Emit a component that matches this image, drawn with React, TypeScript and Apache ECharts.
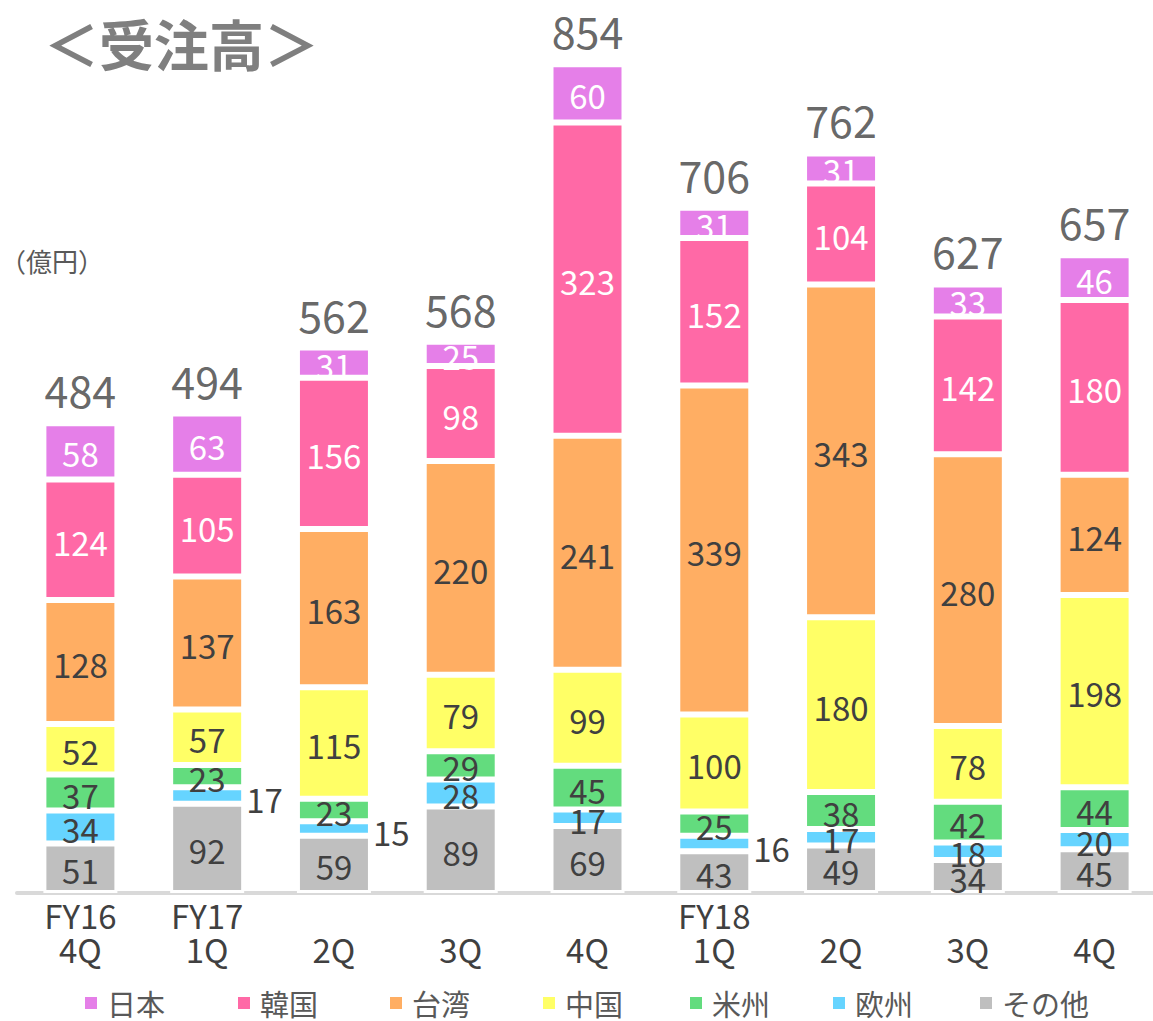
import React, { useEffect, useRef } from "react";
import * as echarts from "echarts";

const CATEGORIES = ["FY16-4Q", "FY17-1Q", "FY17-2Q", "FY17-3Q", "FY17-4Q", "FY18-1Q", "FY18-2Q", "FY18-3Q", "FY18-4Q"];
const TICK_LABELS = ["FY16\n4Q", "FY17\n1Q", " \n2Q", " \n3Q", " \n4Q", "FY18\n1Q", " \n2Q", " \n3Q", " \n4Q"];

const OTHER = [51, 92, 59, 89, 69, 43, 49, 34, 45];
const EUROPE = [34, 17, 15, 28, 17, 16, 17, 18, 20];
const AMERICAS = [37, 23, 23, 29, 45, 25, 38, 42, 44];
const CHINA = [52, 57, 115, 79, 99, 100, 180, 78, 198];
const TAIWAN = [128, 137, 163, 220, 241, 339, 343, 280, 124];
const KOREA = [124, 105, 156, 98, 323, 152, 104, 142, 180];
const JAPAN = [58, 63, 31, 25, 60, 31, 31, 33, 46];
const TOTALS = [484, 494, 562, 568, 854, 706, 762, 627, 657];
const EUROPE_OUTSIDE = [1, 2, 5];

const FONT = "'Noto Sans CJK JP', 'Noto Sans', sans-serif";
const DARK = "#404040";

const SERIES_DEF = [
  { name: "その他", data: OTHER, color: "#bfbfbf", text: DARK },
  { name: "欧州", data: EUROPE, color: "#66d4ff", text: DARK },
  { name: "米州", data: AMERICAS, color: "#63dc7e", text: DARK },
  { name: "中国", data: CHINA, color: "#ffff66", text: DARK },
  { name: "台湾", data: TAIWAN, color: "#ffae63", text: DARK },
  { name: "韓国", data: KOREA, color: "#ff69a6", text: "#ffffff" },
  { name: "日本", data: JAPAN, color: "#e57fe8", text: "#ffffff" },
];

const LEGEND_ORDER = ["日本", "韓国", "台湾", "中国", "米州", "欧州", "その他"];
const LEGEND_X = [85, 238, 390, 543, 690, 833, 980];

export default function App() {
  const ref = useRef<HTMLDivElement>(null);
  useEffect(() => {
    if (!ref.current) return;
    const chart = echarts.init(ref.current, undefined, { renderer: "svg" });
    const series: any[] = SERIES_DEF.map((s) => ({
      name: s.name,
      type: "bar",
      stack: "total",
      barWidth: 74,
      itemStyle: { color: s.color, borderColor: "#ffffff", borderWidth: 3 },
      label: {
        show: true,
        position: "inside",
        color: s.text,
        fontFamily: FONT,
        fontSize: 33,
        offset: [0, 2],
      },
      data: s.data.map((v, i) =>
        s.name === "欧州" && EUROPE_OUTSIDE.includes(i)
          ? { value: v, label: { position: "right", distance: 2, color: DARK, offset: [0, 4] } }
          : v
      ),
    }));
    series.push({
      name: "合計",
      type: "scatter",
      symbolSize: 1,
      itemStyle: { color: "rgba(0,0,0,0)" },
      label: {
        show: true,
        position: "top",
        distance: 12,
        color: DARK,
        fontFamily: FONT,
        fontSize: 43,
        formatter: (p: any) => String(p.value),
      },
      data: TOTALS,
      z: 5,
    });
    chart.setOption({
      animation: false,
      grid: { left: 17, right: 2, top: 19.5, bottom: 128, containLabel: false },
      xAxis: {
        type: "category",
        data: CATEGORIES,
        axisLine: { show: true, lineStyle: { color: "#d9d9d9", width: 4 } },
        axisTick: { show: false },
        axisLabel: {
          interval: 0,
          color: DARK,
          fontFamily: FONT,
          fontSize: 33,
          lineHeight: 34,
          margin: 5,
          formatter: (_v: string, i: number) => TICK_LABELS[i],
        },
      },
      yAxis: { type: "value", min: 0, max: 900, show: false },
      legend: LEGEND_ORDER.map((name, i) => ({
        data: [name],
        left: LEGEND_X[i],
        top: 986,
        padding: 0,
        itemWidth: 12,
        itemHeight: 12,
        icon: "rect",
        selectedMode: false,
        itemStyle: { borderWidth: 0 },
        textStyle: { color: "#595959", fontFamily: FONT, fontSize: 29, lineHeight: 34, padding: [0, 0, 0, 5] },
      })),
      graphic: [
        {
          type: "text",
          left: 44,
          top: 14,
          style: { text: "＜受注高＞", font: `bold 55px ${FONT}`, fill: "#7f7f7f" },
        },
        {
          type: "text",
          left: 0,
          top: 247,
          style: { text: "（億円）", font: `26px ${FONT}`, fill: "#595959" },
        },
      ],
      series,
    });
    return () => chart.dispose();
  }, []);
  return (
    <div style={{ position: "absolute", left: 0, top: 0, width: 1153, height: 1021, overflow: "hidden", background: "#fff" }}>
      <div ref={ref} style={{ width: 1160, height: 1021 }} />
    </div>
  );
}
